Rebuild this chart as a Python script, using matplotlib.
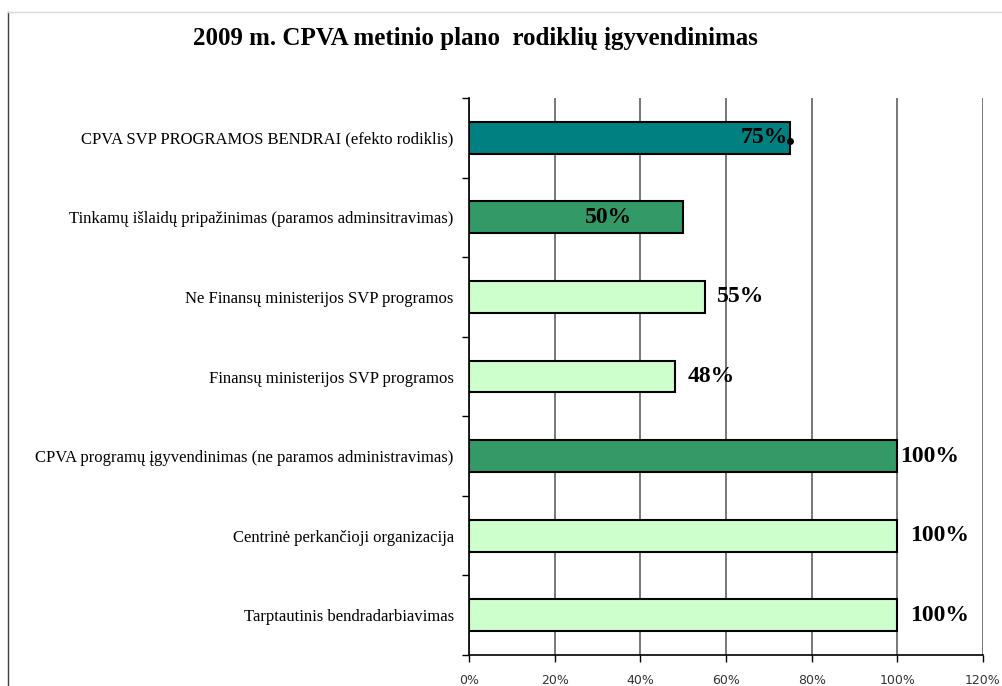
import numpy as np
import matplotlib
matplotlib.use("Agg")
import matplotlib.pyplot as plt
from matplotlib.ticker import FixedLocator, PercentFormatter
from matplotlib.lines import Line2D

# data (top to bottom as in the chart)
categories = [
    "CPVA SVP PROGRAMOS BENDRAI (efekto rodiklis)",
    "Tinkamų išlaidų pripažinimas (paramos adminsitravimas)",
    "Ne Finansų ministerijos SVP programos",
    "Finansų ministerijos SVP programos",
    "CPVA programų įgyvendinimas (ne paramos administravimas)",
    "Centrinė perkančioji organizacija",
    "Tarptautinis bendradarbiavimas",
]
values = [75, 50, 55, 48, 100, 100, 100]
value_labels = ["75%", "50%", "55%", "48%", "100%", "100%", "100%"]

# styling
bar_colors = ["#008080", "#339966", "#CCFFCC", "#CCFFCC", "#339966", "#CCFFCC", "#CCFFCC"]
# label offsets in pixels from bar end, and alignment
label_dx = [-2, -51, 12, 13, 3, 13, 13]
label_ha = ["right", "right", "left", "left", "left", "left", "left"]

fig = plt.figure(figsize=(10.02, 6.86), dpi=100)
ax = fig.add_axes([469 / 1002, 1 - 655 / 686, (983 - 469) / 1002, (655 - 98) / 686])

y = np.arange(len(categories))
ax.barh(y, values, height=0.4, color=bar_colors, edgecolor="black",
        linewidth=1.5, zorder=3)

# odd little marker at end of the first bar
ax.plot([values[0]], [y[0] + 0.04], "o", color="black", markersize=4, zorder=5)

for yi, v, lab, dx, ha in zip(y, values, value_labels, label_dx, label_ha):
    ax.annotate(lab, (v, yi), xytext=(dx * 0.72, 0), textcoords="offset points",
                ha=ha, va="center", fontsize=17, fontweight="bold",
                family="Liberation Serif", zorder=6)

ax.set_xlim(0, 120)
ax.set_ylim(len(categories) - 0.5, -0.5)

ax.xaxis.set_major_locator(FixedLocator([0, 20, 40, 60, 80, 100, 120]))
ax.xaxis.set_major_formatter(PercentFormatter(decimals=0))
ax.grid(axis="x", color="#606060", linewidth=1.2, zorder=0)
ax.tick_params(axis="x", length=5, width=1, pad=9, labelsize=9,
               labelcolor="#333333")
for t in ax.get_xticklabels():
    t.set_family("DejaVu Sans")

ax.set_yticks(y)
ax.set_yticklabels(categories, family="Liberation Serif", fontsize=12)
ax.yaxis.set_minor_locator(FixedLocator(np.arange(-0.5, len(categories), 1)))
ax.tick_params(axis="y", which="major", length=0, pad=11)
ax.tick_params(axis="y", which="minor", length=5, width=1)

for s in ["top", "right"]:
    ax.spines[s].set_visible(False)
ax.spines["left"].set_linewidth(1.2)
ax.spines["bottom"].set_linewidth(1.2)

fig.text(475 / 1002, 1 - 39 / 686, "2009 m. CPVA metinio plano  rodiklių įgyvendinimas",
         ha="center", va="center", fontsize=18, fontweight="bold",
         family="Liberation Serif")

# outer frame lines of the chart area
fig.add_artist(Line2D([8 / 1002, 8 / 1002], [0, 1 - 12 / 686], color="#404040",
                      linewidth=1, transform=fig.transFigure))
fig.add_artist(Line2D([8 / 1002, 1], [1 - 12 / 686, 1 - 12 / 686], color="#d8d8d8",
                      linewidth=1, transform=fig.transFigure))

fig.savefig("out.png", dpi=100)
